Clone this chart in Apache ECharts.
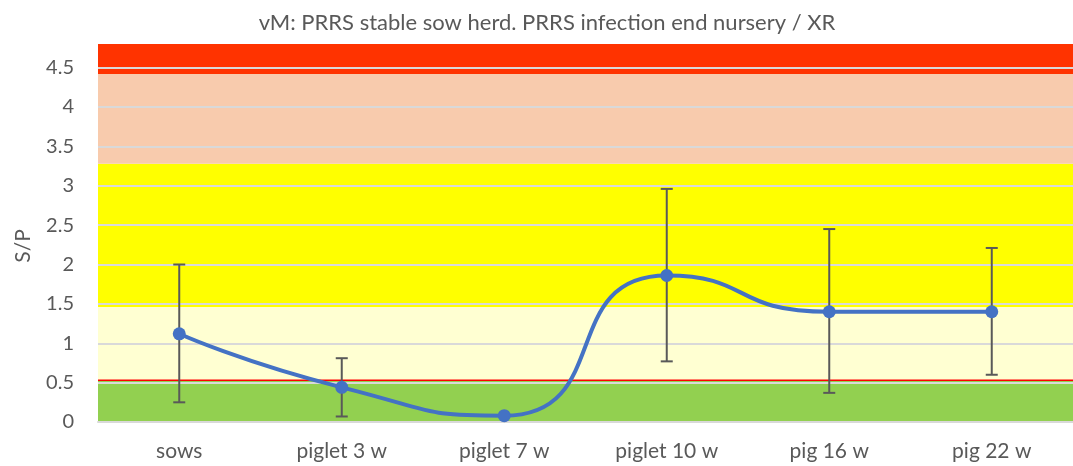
<!DOCTYPE html>
<html>
<head>
<meta charset="utf-8">
<script src="https://cdn.jsdelivr.net/npm/echarts@6/dist/echarts.min.js"></script>
<style>
    html, body { margin: 0; padding: 0; background: #fff; }
    #chart { width: 1073px; height: 466px; }
</style>
</head>
<body>
<div id="chart"></div>
<script>
'use strict';

// chart data
var categories = ['sows', 'piglet 3 w', 'piglet 7 w', 'piglet 10 w', 'pig 16 w', 'pig 22 w'];
var meanSP = [1.12, 0.44, 0.08, 1.86, 1.40, 1.40];
var errLow = [0.25, 0.07, 0.08, 0.77, 0.37, 0.60];
var errHigh = [2.00, 0.81, 0.08, 2.96, 2.45, 2.21];

// background zones (S/P ranges)
var zoneLow = [0, 0.52, 1.46, 3.28, 4.42];
var zoneHigh = [0.52, 1.46, 3.28, 4.42, 4.8];
var zoneColors = ['#92d050', '#ffffd2', '#ffff00', '#f8cbad', '#ff3300'];
var cutOffLines = [0.53];

var yTickLabels = ['0', '0.5', '1', '1.5', '2', '2.5', '3', '3.5', '4', '4.5'];

var chart = echarts.init(document.getElementById('chart'));
var textColor = '#595959';
var fontFamily = 'Lato, "Open Sans", sans-serif';

// last split line sits on the top border -> keep it invisible
var gridColors = [];
for (var i = 0; i < yTickLabels.length; i++) {
    gridColors.push('#d9d9d9');
}
gridColors.push('rgba(0,0,0,0)');

var option = {
    animation: false,
    title: {
        text: 'vM: PRRS stable sow herd. PRRS infection end nursery / XR',
        left: 542,
        textAlign: 'center',
        top: 7,
        textStyle: {
            color: textColor,
            fontSize: 22,
            fontWeight: 'normal',
            fontFamily: fontFamily
        }
    },
    grid: {
        left: 98,
        top: 44,
        width: 992,
        height: 378
    },
    xAxis: {
        type: 'category',
        data: categories,
        boundaryGap: true,
        axisTick: { show: false },
        axisLine: { lineStyle: { color: '#d9d9d9', width: 2 } },
        axisLabel: {
            color: textColor,
            fontSize: 21,
            fontFamily: fontFamily,
            margin: 19
        }
    },
    yAxis: {
        type: 'value',
        min: 0,
        max: 4.8,
        interval: 0.5,
        z: 1,
        name: 'S/P',
        nameLocation: 'middle',
        nameRotate: 90,
        nameGap: 64,
        nameTextStyle: {
            color: textColor,
            fontSize: 21,
            fontFamily: fontFamily,
            padding: [0, 26, 0, 0]
        },
        axisLine: { show: false },
        axisTick: { show: false },
        axisLabel: {
            color: textColor,
            fontSize: 20,
            fontFamily: fontFamily,
            margin: 24,
            showMaxLabel: false,
            formatter: function (v) {
                var idx = Math.round(v / 0.5);
                return Math.abs(idx * 0.5 - v) < 1e-6 && yTickLabels[idx] !== undefined ? yTickLabels[idx] : '';
            }
        },
        splitLine: { lineStyle: { color: gridColors, width: 2 } }
    },
    series: [
        {
            name: 'zones',
            type: 'custom',
            z: 0,
            silent: true,
            encode: { x: 0, y: [1, 2] },
            data: zoneLow.map(function (lo, i) { return [0, lo, zoneHigh[i]]; }),
            renderItem: function (params, api) {
                var cs = params.coordSys;
                var yTop = api.coord([0, api.value(2)])[1];
                var yBot = api.coord([0, api.value(1)])[1];
                return {
                    type: 'rect',
                    shape: { x: cs.x, y: yTop, width: cs.width, height: yBot - yTop },
                    style: { fill: zoneColors[params.dataIndex] }
                };
            }
        },
        {
            name: 'cut-off',
            type: 'custom',
            z: 1,
            silent: true,
            encode: { x: 0, y: 1 },
            data: cutOffLines.map(function (v) { return [0, v]; }),
            renderItem: function (params, api) {
                var cs = params.coordSys;
                var y = api.coord([0, api.value(1)])[1];
                return {
                    type: 'line',
                    shape: { x1: cs.x, y1: y, x2: cs.x + cs.width, y2: y },
                    style: { stroke: '#ff0000', lineWidth: 1.5 }
                };
            }
        },
        {
            name: 'error',
            type: 'custom',
            z: 3,
            silent: true,
            encode: { x: 0, y: [1, 2] },
            data: categories.map(function (c, i) { return [i, errLow[i], errHigh[i]]; }),
            renderItem: function (params, api) {
                var lo = api.coord([api.value(0), api.value(1)]);
                var hi = api.coord([api.value(0), api.value(2)]);
                var half = 6;
                var style = { stroke: '#595959', lineWidth: 2 };
                return {
                    type: 'group',
                    children: [
                        { type: 'line', shape: { x1: lo[0], y1: lo[1], x2: hi[0], y2: hi[1] }, style: style },
                        { type: 'line', shape: { x1: lo[0] - half, y1: lo[1], x2: lo[0] + half, y2: lo[1] }, style: style },
                        { type: 'line', shape: { x1: hi[0] - half, y1: hi[1], x2: hi[0] + half, y2: hi[1] }, style: style }
                    ]
                };
            }
        },
        {
            name: 'S/P',
            type: 'line',
            z: 4,
            data: meanSP,
            smooth: 0.6,
            symbol: 'circle',
            symbolSize: 13,
            itemStyle: { color: '#4472c4' },
            lineStyle: { color: '#4472c4', width: 4 }
        }
    ]
};
chart.setOption(option);
</script>
</body>
</html>
